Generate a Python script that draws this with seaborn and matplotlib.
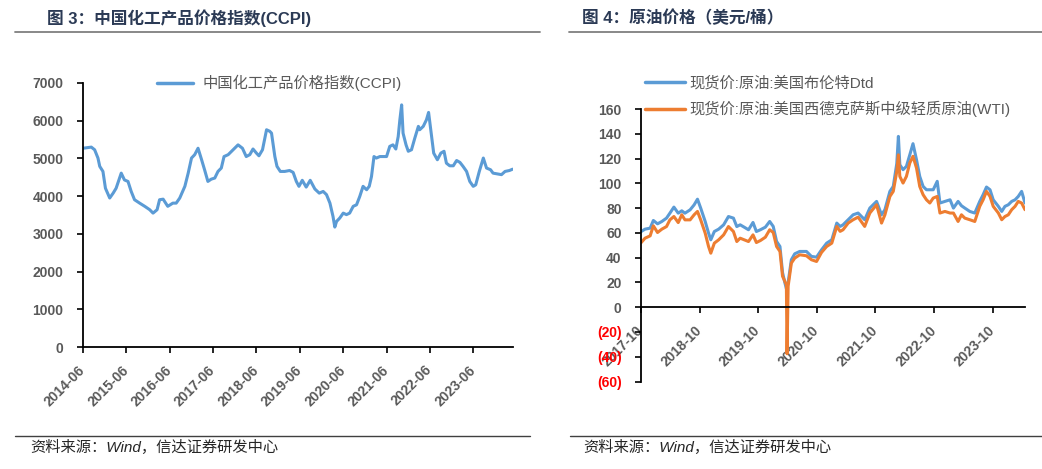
import numpy as np
import pandas as pd
import matplotlib
matplotlib.use("Agg")
import matplotlib.pyplot as plt
import matplotlib.dates as mdates
from matplotlib.lines import Line2D
import seaborn as sns

# ---------------- data ----------------
ccpi_dates = ["2014-06-01", "2014-08-10", "2014-09-07", "2014-10-05", "2014-10-20", "2014-11-16",
              "2014-12-07", "2015-01-12", "2015-02-10", "2015-03-07", "2015-04-19", "2015-05-16",
              "2015-06-15", "2015-07-12", "2015-08-09", "2015-09-21", "2015-11-03", "2015-12-15",
              "2016-01-12", "2016-02-15", "2016-03-07", "2016-04-06", "2016-05-15", "2016-06-27",
              "2016-07-25", "2016-08-24", "2016-10-06", "2016-11-03", "2016-12-01", "2016-12-28",
              "2017-01-25", "2017-02-24", "2017-03-21", "2017-04-18", "2017-05-16", "2017-06-15",
              "2017-07-12", "2017-08-09", "2017-09-01", "2017-10-06", "2017-11-16", "2017-12-28",
              "2018-02-03", "2018-03-07", "2018-04-06", "2018-05-03", "2018-06-01", "2018-06-22",
              "2018-07-22", "2018-08-25", "2018-09-21", "2018-10-06", "2018-11-03", "2018-11-21",
              "2018-12-19", "2019-01-25", "2019-03-07", "2019-04-06", "2019-05-03", "2019-05-25",
              "2019-06-22", "2019-07-25", "2019-08-28", "2019-10-06", "2019-11-12", "2019-12-15",
              "2020-01-12", "2020-02-10", "2020-03-07", "2020-03-22", "2020-04-06", "2020-05-03",
              "2020-06-01", "2020-06-28", "2020-07-25", "2020-08-24", "2020-09-21", "2020-10-18",
              "2020-11-15", "2020-12-15", "2021-01-06", "2021-01-25", "2021-02-15", "2021-03-07",
              "2021-04-06", "2021-05-03", "2021-06-01", "2021-06-28", "2021-07-25", "2021-08-18",
              "2021-09-07", "2021-09-21", "2021-10-06", "2021-10-18", "2021-11-12", "2021-12-01",
              "2021-12-28", "2022-01-25", "2022-02-24", "2022-03-07", "2022-04-06", "2022-05-03",
              "2022-05-21", "2022-06-15", "2022-07-03", "2022-08-03", "2022-09-01", "2022-09-28",
              "2022-10-18", "2022-11-15", "2022-12-15", "2023-01-12", "2023-02-09", "2023-03-07",
              "2023-04-06", "2023-05-03", "2023-06-01", "2023-06-22", "2023-07-22", "2023-08-25",
              "2023-09-21", "2023-10-25", "2023-11-15", "2023-12-19", "2024-01-25", "2024-02-24",
              "2024-04-01", "2024-04-28"]
ccpi_values = [5270, 5300, 5230, 5010, 4790, 4655,
               4210, 3950, 4080, 4210, 4610, 4430,
               4390, 4125, 3905, 3815, 3730, 3640,
               3550, 3640, 3905, 3920, 3730, 3815,
               3815, 3950, 4260, 4610, 5010, 5100,
               5270, 4965, 4700, 4390, 4450, 4480,
               4655, 4745, 5050, 5100, 5230, 5360,
               5270, 5050, 5100, 5250, 5140, 5070,
               5230, 5760, 5720, 5670, 5050, 4790,
               4655, 4655, 4680, 4630, 4390, 4260,
               4420, 4240, 4420, 4190, 4080, 4125,
               4040, 3815, 3460, 3180, 3330, 3420,
               3550, 3510, 3550, 3730, 3770, 3990,
               4260, 4170, 4260, 4520, 5050, 5010,
               5050, 5050, 5050, 5320, 5360, 5250,
               5580, 6025, 6420, 5670, 5360, 5190,
               5230, 5540, 5850, 5760, 5850, 6025,
               6220, 5580, 5140, 4965, 5140, 5190,
               4875, 4805, 4805, 4945, 4895, 4790,
               4655, 4390, 4260, 4300, 4655, 5010,
               4745, 4700, 4610, 4590, 4570, 4655,
               4680, 4715]

oil_dates = ["2017-10-01", "2017-10-26", "2017-11-27", "2017-12-17", "2018-01-12", "2018-02-08",
             "2018-03-09", "2018-03-30", "2018-04-24", "2018-05-21", "2018-06-12", "2018-07-02",
             "2018-08-03", "2018-08-28", "2018-09-18", "2018-10-08", "2018-11-05", "2018-11-26",
             "2018-12-10", "2019-01-01", "2019-01-28", "2019-02-28", "2019-03-30", "2019-04-30",
             "2019-05-21", "2019-06-11", "2019-07-06", "2019-08-02", "2019-08-30", "2019-09-20",
             "2019-10-15", "2019-11-15", "2019-12-12", "2020-01-03", "2020-01-24", "2020-02-14",
             "2020-03-01", "2020-03-15", "2020-03-25", "2020-03-29", "2020-04-05", "2020-04-25",
             "2020-05-16", "2020-06-16", "2020-07-28", "2020-08-28", "2020-09-29", "2020-10-30",
             "2020-12-01", "2021-01-02", "2021-02-02", "2021-02-23", "2021-03-13", "2021-04-14",
             "2021-05-15", "2021-06-15", "2021-07-26", "2021-08-27", "2021-10-08", "2021-11-08",
             "2021-11-29", "2021-12-30", "2022-01-20", "2022-02-11", "2022-02-21", "2022-03-02",
             "2022-03-22", "2022-04-12", "2022-05-03", "2022-05-23", "2022-06-14", "2022-07-04",
             "2022-07-25", "2022-08-15", "2022-09-05", "2022-09-26", "2022-10-21", "2022-11-07",
             "2022-12-08", "2023-01-09", "2023-01-30", "2023-02-28", "2023-03-21", "2023-04-11",
             "2023-05-12", "2023-06-12", "2023-07-13", "2023-08-03", "2023-08-24", "2023-09-15",
             "2023-10-05", "2023-11-06", "2023-11-27", "2023-12-17", "2024-01-07", "2024-01-28",
             "2024-02-18", "2024-03-09", "2024-03-30", "2024-04-20"]
brent_values = [61.0, 63.0, 63.8, 70.0, 67.3, 69.2,
                71.9, 75.9, 80.8, 75.9, 77.8, 75.9,
                78.6, 82.6, 87.2, 80.0, 69.2, 59.8,
                54.4, 61.1, 63.0, 66.5, 73.2, 71.9,
                65.1, 66.5, 64.6, 62.5, 68.4, 61.1,
                62.5, 64.6, 69.2, 65.2, 53.1, 49.0,
                28.0, 20.0, 15.0, 17.0, 20.0, 38.3,
                43.1, 45.0, 45.0, 41.0, 40.4, 46.3,
                51.7, 54.4, 67.9, 65.2, 66.5, 70.6,
                74.6, 76.0, 70.6, 80.0, 85.4, 74.6,
                78.7, 93.5, 97.5, 116.0, 137.9, 115.0,
                111.0, 113.7, 123.0, 132.0, 119.0, 105.6,
                97.5, 94.8, 94.8, 94.8, 101.6, 84.1,
                85.4, 86.7, 80.0, 85.4, 81.9, 80.0,
                77.3, 76.0, 85.4, 90.8, 97.0, 94.8,
                86.7, 81.4, 77.3, 81.4, 82.7, 85.4,
                86.7, 89.4, 93.5, 84.1]
wti_values = [52.0, 55.7, 57.6, 65.7, 60.3, 63.0,
              65.1, 70.5, 73.2, 68.3, 74.6, 70.5,
              70.5, 74.6, 77.3, 70.5, 59.8, 49.0,
              43.6, 51.7, 54.4, 58.4, 65.1, 61.1,
              53.0, 55.7, 54.4, 53.0, 58.4, 52.2,
              53.8, 56.5, 62.5, 60.3, 49.0, 45.0,
              25.0, 21.0, 18.0, -37.6, 17.0, 35.6,
              39.6, 42.3, 41.5, 38.3, 36.9, 44.2,
              49.0, 51.7, 65.2, 61.2, 62.5, 67.9,
              70.6, 72.7, 65.2, 76.0, 82.7, 67.9,
              74.6, 89.4, 93.5, 109.6, 123.0, 105.6,
              100.2, 105.6, 116.4, 121.8, 112.3, 97.5,
              90.8, 86.7, 84.1, 88.1, 89.4, 76.0,
              77.3, 76.0, 76.0, 69.2, 74.6, 71.9,
              70.6, 69.2, 81.4, 86.7, 93.5, 89.4,
              81.4, 76.0, 70.6, 73.2, 74.6, 78.7,
              81.4, 85.4, 84.1, 78.7]

ccpi_ticks = ["2014-06", "2015-06", "2016-06", "2017-06", "2018-06",
              "2019-06", "2020-06", "2021-06", "2022-06", "2023-06"]
ccpi_yticks = [0, 1000, 2000, 3000, 4000, 5000, 6000, 7000]
oil_ticks = ["2017-10", "2018-10", "2019-10", "2020-10", "2021-10", "2022-10", "2023-10"]
oil_yticks = [-60, -40, -20, 0, 20, 40, 60, 80, 100, 120, 140, 160]

ccpi_label = "中国化工产品价格指数(CCPI)"
brent_label = "现货价:原油:美国布伦特Dtd"
wti_label = "现货价:原油:美国西德克萨斯中级轻质原油(WTI)"
title_left = "图 3：中国化工产品价格指数(CCPI)"
title_right = "图 4：原油价格（美元/桶）"
source_text = "资料来源：Wind，信达证券研发中心"

# ---------------- style ----------------
sns.set_theme(style="white")
FAM = ['Liberation Sans', 'Noto Sans CJK SC', 'DejaVu Sans']
plt.rcParams['font.family'] = FAM

BLUE = "#5B9BD5"
ORANGE = "#ED7D31"
TICKC = "#595959"
TITLEC = "#2B3A55"

W, H = 1042, 469
fig = plt.figure(figsize=(W / 100, H / 100), dpi=100)
fig.patch.set_facecolor("white")

def fx(px):
    return px / W

def fy(py):
    return 1 - py / H

ax1 = fig.add_axes([fx(83), fy(347), fx(513) - fx(83), fy(83) - fy(347)])
ax2 = fig.add_axes([fx(641), fy(381.5), fx(1025) - fx(641), fy(109) - fy(381.5)])

df_ccpi = pd.DataFrame({"date": pd.to_datetime(ccpi_dates), "value": ccpi_values})
df_oil = pd.DataFrame({"date": pd.to_datetime(oil_dates), "brent": brent_values, "wti": wti_values})

sns.lineplot(data=df_ccpi, x="date", y="value", ax=ax1, color=BLUE, linewidth=2.2,
             label=ccpi_label)
sns.lineplot(data=df_oil, x="date", y="brent", ax=ax2, color=BLUE, linewidth=2.2,
             label=brent_label)
sns.lineplot(data=df_oil, x="date", y="wti", ax=ax2, color=ORANGE, linewidth=2.2,
             label=wti_label)

# zero-line x axis on the oil chart (set before tick styling, since it resets ticks)
ax2.spines["bottom"].set_position(("data", 0))


def style_axes(ax, xticks, yticks, ylabels, xlim, ylim):
    ax.set_xlim(pd.Timestamp(xlim[0]), pd.Timestamp(xlim[1]))
    ax.set_ylim(*ylim)
    ax.set_xlabel("")
    ax.set_ylabel("")
    ax.set_facecolor("white")
    for s in ["top", "right"]:
        ax.spines[s].set_visible(False)
    for s in ["left", "bottom"]:
        ax.spines[s].set_color("black")
        ax.spines[s].set_linewidth(1.3)
    xt = [mdates.date2num(pd.Timestamp(t + "-01")) for t in xticks]
    ax.set_xticks(xt, labels=xticks)
    ax.set_yticks(yticks, labels=ylabels)
    ax.tick_params(axis="both", which="major", direction="out", length=4, width=1.2,
                   color="black", labelcolor=TICKC, labelsize=10, bottom=True, left=True)
    ax.tick_params(axis="y", pad=10)
    ax.tick_params(axis="x", pad=11)
    for lab in ax.get_xticklabels():
        lab.set_rotation(45)
        lab.set_ha("right")
        lab.set_va("center")
        lab.set_rotation_mode("anchor")
        lab.set_fontweight("bold")
    for lab in ax.get_yticklabels():
        lab.set_fontweight("bold")
    ax.grid(False)


style_axes(ax1, ccpi_ticks, ccpi_yticks, [str(v) for v in ccpi_yticks],
           ("2014-06-01", "2024-05-01"), (0, 7000))

oil_ylabels = [f"({abs(v)})" if v < 0 else str(v) for v in oil_yticks]
style_axes(ax2, oil_ticks, oil_yticks, oil_ylabels,
           ("2017-10-01", "2024-04-20"), (-60, 160))
for lab, v in zip(ax2.get_yticklabels(), oil_yticks):
    if v < 0:
        lab.set_color("#FF0000")

# legends
leg1 = ax1.legend(loc="center left", bbox_to_anchor=(fx(157), fy(83)),
                  bbox_transform=fig.transFigure, frameon=False, fontsize=11,
                  handlelength=2.35, handletextpad=0.6, borderpad=0, borderaxespad=0)
leg2 = ax2.legend(loc="center left", bbox_to_anchor=(fx(645), fy(96.5)),
                  bbox_transform=fig.transFigure, frameon=False, fontsize=11,
                  handlelength=2.6, handletextpad=0.3, borderpad=0, borderaxespad=0,
                  labelspacing=0.68)
for leg in (leg1, leg2):
    for t in leg.get_texts():
        t.set_color(TICKC)
    for h in leg.get_lines():
        h.set_linewidth(2.5)

# titles, rules and sources
fig.text(fx(47), fy(18), title_left, fontsize=12, fontweight="bold", color=TITLEC,
         va="center", ha="left")
fig.text(fx(582), fy(18), title_right, fontsize=12, fontweight="bold", color=TITLEC,
         va="center", ha="left")
for x0, x1 in [(15, 540), (569, 1042)]:
    fig.add_artist(Line2D([fx(x0), fx(x1)], [fy(32), fy(32)], color="#7F7F7F", lw=1.3))
for x0, x1 in [(15, 530), (570, 1042)]:
    fig.add_artist(Line2D([fx(x0), fx(x1)], [fy(436), fy(436)], color="#404040", lw=1.0))
fig.text(fx(30), fy(447), source_text, fontsize=11, style="italic", color="#262626",
         va="center", ha="left")
fig.text(fx(583), fy(447), source_text, fontsize=11, style="italic", color="#262626",
         va="center", ha="left")

fig.savefig("out.png", dpi=100, facecolor="white")
